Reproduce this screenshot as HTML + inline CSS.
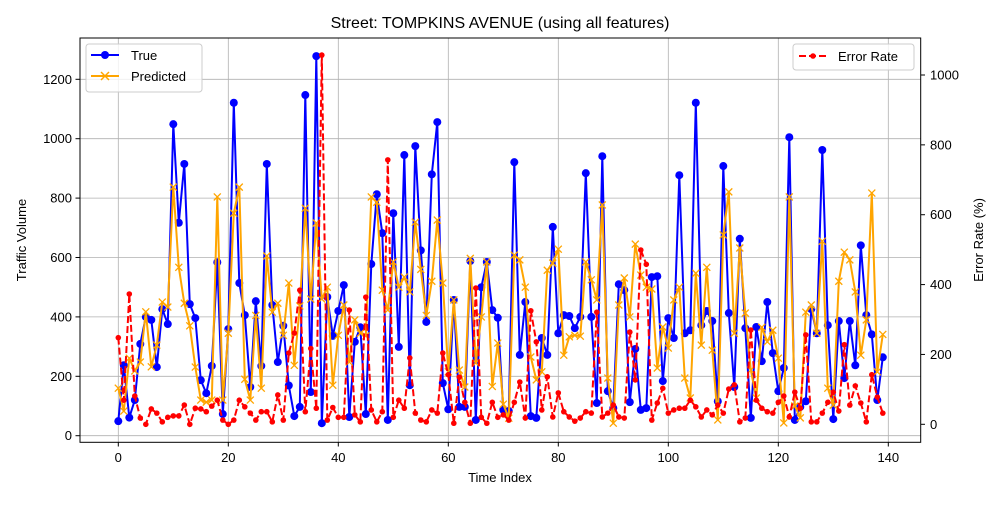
<!DOCTYPE html>
<html><head><meta charset="utf-8"><style>
body{margin:0;background:#fff;}
svg text{font-family:"Liberation Sans","DejaVu Sans",sans-serif;fill:#000;}
</style></head><body>
<svg id="chart" width="1000" height="500" viewBox="0 0 1000 500" xmlns="http://www.w3.org/2000/svg">
<rect width="1000" height="500" fill="#fff"/>
<text x="500" y="28" text-anchor="middle" font-size="16">Street: TOMPKINS AVENUE (using all features)</text>
<g id="grid"></g>
<g id="series"></g>
<rect x="80" y="38" width="840.7" height="404.3" fill="none" stroke="#000" stroke-width="1"/>
<g id="axes"></g>
<text x="500" y="482" text-anchor="middle" font-size="13">Time Index</text>
<text transform="translate(26,240) rotate(-90)" text-anchor="middle" font-size="13">Traffic Volume</text>
<text transform="translate(983,240) rotate(-90)" text-anchor="middle" font-size="13">Error Rate (%)</text>
<g>
<rect x="86" y="44" width="116" height="48" rx="3" fill="#fff" fill-opacity="0.8" stroke="#ccc"/>
<g>
<line x1="91" y1="55" x2="119" y2="55" stroke="#0000ff" stroke-width="2"/><circle cx="105" cy="55" r="4" fill="#0000ff"/>
<text x="131" y="60" font-size="13">True</text></g>
<g>
<line x1="91" y1="76" x2="119" y2="76" stroke="#ffa500" stroke-width="2"/><path d="M101,72 L109,80 M101,80 L109,72" stroke="#ffa500" stroke-width="1.5"/>
<text x="131" y="81" font-size="13">Predicted</text></g>
</g>
<g>
<rect x="793" y="44" width="121" height="26" rx="3" fill="#fff" fill-opacity="0.8" stroke="#ccc"/>
<g>
<line x1="799" y1="56" x2="827" y2="56" stroke="#ff0000" stroke-width="2" stroke-dasharray="7,3"/><circle cx="813" cy="56" r="2.8" fill="#ff0000"/>
<text x="838" y="61" font-size="13">Error Rate</text></g>
</g>
</svg>
<script>
const trueVals=[49,237,61,120,309,400,390,231,426,376,1049,717,915,443,396,187,143,235,584,73,359,1121,514,
406,164,453,235,915,440,248,370,169,66,97,1147,147,1278,42,467,336,420,507,63,316,365,73,578,813,
682,53,749,299,945,170,975,624,383,880,1056,177,89,457,97,97,588,53,500,585,423,397,87,83,921,
272,450,66,60,329,272,703,345,406,403,362,400,884,400,110,941,150,93,510,490,113,292,87,93,
534,537,184,396,329,877,345,355,1121,372,420,386,116,908,413,164,663,362,60,366,251,450,278,150,
228,1005,53,97,116,426,345,962,372,56,386,194,386,237,641,406,341,120,264];
const predVals=[160,83,261,218,248,417,232,305,450,433,837,567,446,370,231,120,113,120,804,120,345,749,837,
190,120,405,160,605,416,446,338,514,237,437,766,460,716,460,500,170,338,440,248,390,345,336,804,786,
490,423,585,500,534,484,719,560,405,520,726,514,215,457,221,164,597,245,400,585,166,312,106,59,608,
592,500,265,188,215,557,581,628,271,333,338,335,585,525,457,777,194,42,440,531,400,645,541,500,
494,228,366,295,457,500,194,127,547,305,567,288,53,676,821,345,632,413,221,127,365,316,355,261,
43,804,100,60,416,440,345,655,160,103,520,618,592,484,271,390,817,215,341];
const errVals=[248,69,373,81,18,0,44,32,7,20,24,24,55,0,46,44,36,52,69,12,0,12,69,
50,32,12,36,36,7,84,12,204,261,384,36,217,46,1057,12,48,20,20,327,27,7,364,41,7,
36,757,20,69,46,190,32,12,7,41,32,204,142,3,135,63,3,390,20,3,63,20,27,12,63,
121,18,325,236,41,136,21,90,36,21,9,18,36,32,321,21,32,55,21,18,264,127,499,458,
12,61,103,32,41,46,46,69,50,21,41,27,55,32,101,113,7,18,270,69,46,36,32,63,
81,21,92,46,256,7,7,32,63,92,38,228,55,110,61,7,142,78,32];
const xTicks=[0,20,40,60,80,100,120,140];
const yTicks=[0,200,400,600,800,1000,1200];
const y2Ticks=[0,200,400,600,800,1000];

const NS='http://www.w3.org/2000/svg';
const X=i=>118.3+5.5*i;
const Y=v=>435.7-0.297*v;
const Y2=v=>424.3-0.3493*v;
function mk(tag,attrs,parent){const e=document.createElementNS(NS,tag);for(const k in attrs)e.setAttribute(k,attrs[k]);parent.appendChild(e);return e;}
const grid=document.getElementById('grid'),axes=document.getElementById('axes'),ser=document.getElementById('series');
xTicks.forEach(t=>{
 const g=mk('line',{x1:X(t),x2:X(t),y1:38,y2:442.3,stroke:'#b0b0b0','stroke-width':0.8},grid);
 
 
 mk('line',{x1:X(t),x2:X(t),y1:442.3,y2:446.5,stroke:'#000'},axes);
 const tx=mk('text',{x:X(t),y:462,'text-anchor':'middle','font-size':'13'},axes);tx.textContent=t;
 
 
});
yTicks.forEach(t=>{
 const g=mk('line',{x1:80,x2:920.7,y1:Y(t),y2:Y(t),stroke:'#b0b0b0','stroke-width':0.8},grid);
 
 
 mk('line',{x1:75.5,x2:80,y1:Y(t),y2:Y(t),stroke:'#000'},axes);
 const tx=mk('text',{x:72,y:Y(t)+4.5,'text-anchor':'end','font-size':'13'},axes);tx.textContent=t;
 
 
});
y2Ticks.forEach(t=>{
 mk('line',{x1:920.7,x2:925,y1:Y2(t),y2:Y2(t),stroke:'#000'},axes);
 const tx=mk('text',{x:930,y:Y2(t)+4.5,'text-anchor':'start','font-size':'13'},axes);tx.textContent=t;
 
 
});
const clip=mk('clipPath',{id:'pc'},ser);mk('rect',{x:80,y:38,width:840.7,height:404.3},clip);
const sg=mk('g',{'clip-path':'url(#pc)'},ser);
// true
const tl=mk('polyline',{points:trueVals.map((v,i)=>X(i)+','+Y(v)).join(' '),fill:'none',stroke:'#0000ff','stroke-width':2,'stroke-linejoin':'round'},sg);


trueVals.forEach((v,i)=>{const c=mk('circle',{cx:X(i),cy:Y(v),r:4,fill:'#0000ff'},sg);
 
 });
// predicted
const pl=mk('polyline',{points:predVals.map((v,i)=>X(i)+','+Y(v)).join(' '),fill:'none',stroke:'#ffa500','stroke-width':2,'stroke-linejoin':'round'},sg);


predVals.forEach((v,i)=>{const x=X(i),y=Y(v);
 const p=mk('path',{d:`M${x-3.5},${y-3.5}L${x+3.5},${y+3.5}M${x-3.5},${y+3.5}L${x+3.5},${y-3.5}`,stroke:'#ffa500','stroke-width':1.3},sg);
 
 });
// error
const el=mk('polyline',{points:errVals.map((v,i)=>X(i)+','+Y2(v)).join(' '),fill:'none',stroke:'#ff0000','stroke-width':2,'stroke-dasharray':'7,3'},sg);


errVals.forEach((v,i)=>{const c=mk('circle',{cx:X(i),cy:Y2(v),r:2.8,fill:'#ff0000'},sg);
 
 });
</script>
</body></html>
